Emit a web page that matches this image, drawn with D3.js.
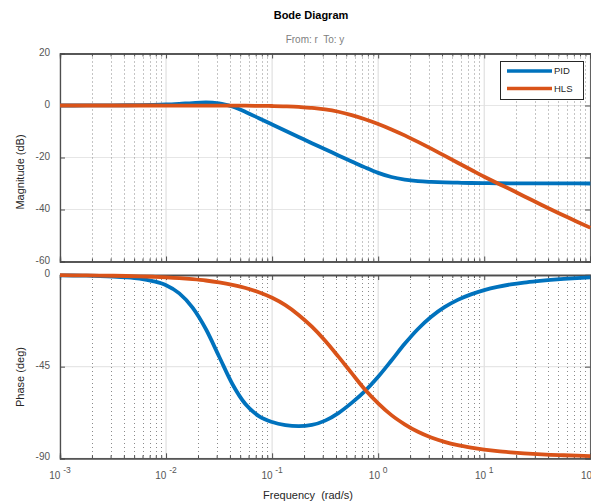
<!DOCTYPE html>
<html><head><meta charset="utf-8">
<script src="https://cdn.jsdelivr.net/npm/d3@7"></script>
<style>
body{margin:0;background:#fff;}
svg{display:block;font-family:"Liberation Sans",Arial,Helvetica,sans-serif;}
text{white-space:pre;}
</style></head>
<body><svg id="c" width="591" height="503"></svg>
<script>
// log10 of frequency (rad/s), step 0.125
const logW = [-3,-2.875,-2.75,-2.625,-2.5,-2.375,-2.25,-2.125,-2,-1.875,-1.75,-1.625,-1.5,-1.375,-1.25,-1.125,-1,-0.875,-0.75,-0.625,-0.5,-0.375,-0.25,-0.125,0,0.125,0.25,0.375,0.5,0.625,0.75,0.875,1,1.125,1.25,1.375,1.5,1.625,1.75,1.875,2];
const pidMag = [0,0,0.02,0.03,0.05,0.09,0.15,0.25,0.4,0.65,0.95,1.15,0.85,-0.4,-2.5,-4.9,-7.3,-9.7,-12.1,-14.5,-16.8,-19.2,-21.5,-23.8,-25.9,-27.5,-28.5,-29.1,-29.4,-29.6,-29.7,-29.8,-29.85,-29.9,-29.92,-29.94,-29.96,-29.97,-29.98,-29.99,-30];
const hlsMag = [0,0,0,0,0,0,0,0,-0.01,-0.01,-0.01,-0.02,-0.03,-0.05,-0.08,-0.14,-0.2,-0.3,-0.5,-0.95,-1.5,-2.4,-3.7,-5.3,-7.1,-9.2,-11.5,-14.0,-16.6,-19.3,-22.0,-24.7,-27.4,-29.9,-32.3,-34.9,-37.4,-39.9,-42.3,-44.7,-47.0];
const pidPhase = [-0.2,-0.25,-0.35,-0.5,-0.75,-1.15,-1.8,-3.0,-5.0,-9.0,-16.0,-26.5,-40,-53.5,-63.5,-69.3,-72.2,-73.7,-74.2,-73.6,-71.5,-67.8,-62.8,-57,-50,-42,-33.8,-26.5,-20.5,-15.8,-12.2,-9.5,-7.4,-5.8,-4.6,-3.7,-3.0,-2.4,-1.9,-1.5,-1.2];
const hlsPhase = [-0.1,-0.15,-0.2,-0.27,-0.36,-0.48,-0.64,-0.86,-1.15,-1.53,-2.05,-2.7,-3.6,-4.8,-6.4,-8.5,-11.2,-14.8,-19.6,-25.4,-32.3,-40.1,-48.2,-56.2,-63,-68.8,-73.3,-77,-79.8,-81.9,-83.5,-84.7,-85.7,-86.5,-87.1,-87.6,-88,-88.3,-88.5,-88.7,-88.9];
const seriesNames = ["PID","HLS"];
const seriesColors = ["#0072BD","#D95319"];
const magTicks = [20,0,-20,-40,-60];
const phaseTicks = [0,-45,-90];
const decades = [-3,-2,-1,0,1,2];

const svg = d3.select("#c");
const L = 60, R = 590.3;
const x = d3.scaleLog().domain([1e-3,1e2]).range([L,R]);
const yMag = d3.scaleLinear().domain([-60,20]).range([261.5,53.5]);
const yPh = d3.scaleLinear().domain([-90,0]).range([458.3,275]);

const minorVals = [];
decades.slice(0,-1).forEach(d=>{for(let k=2;k<=9;k++) minorVals.push(k*Math.pow(10,d));});
const majorVals = decades.map(d=>Math.pow(10,d));

function panel(y, ticks, dataA, dataB) {
  const [y0,y1] = y.range(); // bottom, top
  const g = svg.append("g");
  g.selectAll(".hg").data(ticks).join("line")
    .attr("x1",L).attr("x2",R).attr("y1",d=>y(d)).attr("y2",d=>y(d))
    .attr("stroke","#e6e6e6").attr("stroke-width",1.2);
  g.selectAll(".vg").data(majorVals).join("line")
    .attr("x1",d=>x(d)).attr("x2",d=>x(d)).attr("y1",y1).attr("y2",y0)
    .attr("stroke","#e0e0e0").attr("stroke-width",1.2);
  g.selectAll(".vm").data(minorVals).join("line")
    .attr("x1",d=>Math.round(x(d))+0.5).attr("x2",d=>Math.round(x(d))+0.5).attr("y1",y1).attr("y2",y0)
    .attr("stroke","#8a8a8a").attr("stroke-width",1).attr("stroke-dasharray","1,3");
  const ab = d3.axisBottom(x).tickValues(majorVals).tickSize(-5).tickFormat("");
  const abm = d3.axisBottom(x).tickValues(minorVals).tickSize(-3).tickFormat("");
  const at = d3.axisTop(x).tickValues(majorVals).tickSize(-5).tickFormat("");
  const atm = d3.axisTop(x).tickValues(minorVals).tickSize(-3).tickFormat("");
  const al = d3.axisLeft(y).tickValues(ticks).tickSize(-5).tickFormat("");
  const ar = d3.axisRight(y).tickValues(ticks).tickSize(-5).tickFormat("");
  const axes = [[ab,`translate(0,${y0})`],[abm,`translate(0,${y0})`],[at,`translate(0,${y1})`],[atm,`translate(0,${y1})`],[al,`translate(${L},0)`],[ar,`translate(${R},0)`]];
  axes.forEach(([a,t])=>{
    const ag = g.append("g").attr("transform",t).call(a);
    ag.select(".domain").attr("stroke","#4d4d4d").attr("stroke-width",1.3);
    ag.selectAll(".tick line").attr("stroke","#4d4d4d");
  });
  g.selectAll(".yl").data(ticks).join("text")
    .attr("x",L-10).attr("y",d=>y(d)-1.5).attr("dy","0.35em")
    .attr("text-anchor","end").attr("font-size",10).attr("fill","#555")
    .text(d=>d);
  const line = d3.line().x((d,i)=>x(Math.pow(10,logW[i]))).y(d=>y(d)).curve(d3.curveMonotoneX);
  [dataA,dataB].forEach((dat,k)=>{
    g.append("path").datum(dat).attr("d",line).attr("fill","none")
      .attr("stroke",seriesColors[k]).attr("stroke-width",3.8)
      .attr("stroke-linejoin","round").attr("stroke-linecap","butt");
  });
}

panel(yMag, magTicks, pidMag, hlsMag);
panel(yPh, phaseTicks, pidPhase, hlsPhase);

const xl = svg.append("g");
decades.forEach(d=>{
  const t = xl.append("text").attr("x",x(Math.pow(10,d))).attr("y",479)
    .attr("text-anchor","middle").attr("font-size",10).attr("fill","#555");
  t.append("tspan").text("10 ");
  t.append("tspan").attr("dy",-6).attr("font-size",8.5).text(d);
});

const lg = svg.append("g");
lg.append("rect").attr("x",500.5).attr("y",61.5).attr("width",83).attr("height",38)
  .attr("fill","#fff").attr("stroke","#262626").attr("stroke-width",1);
seriesNames.forEach((n,i)=>{
  const yy = 71 + i*17.5;
  lg.append("line").attr("x1",507).attr("x2",552).attr("y1",yy).attr("y2",yy)
    .attr("stroke",seriesColors[i]).attr("stroke-width",3.6);
  lg.append("text").attr("x",554).attr("y",yy).attr("dy","0.35em")
    .attr("font-size",9.5).attr("fill","#262626").text(n);
});

svg.append("text").attr("x",311).attr("y",19).attr("text-anchor","middle")
  .attr("font-size",11).attr("font-weight","bold").attr("fill","#000").text("Bode Diagram");
svg.append("text").attr("x",315).attr("y",43).attr("text-anchor","middle")
  .attr("font-size",10).attr("fill","#808080").text("From: r  To: y");
svg.append("text").attr("x",308).attr("y",499).attr("text-anchor","middle")
  .attr("font-size",11).attr("fill","#262626").text("Frequency  (rad/s)");
svg.append("text").attr("transform","translate(24,172) rotate(-90)").attr("text-anchor","middle")
  .attr("font-size",11).attr("fill","#262626").text("Magnitude (dB)");
svg.append("text").attr("transform","translate(24,377) rotate(-90)").attr("text-anchor","middle")
  .attr("font-size",11).attr("fill","#262626").text("Phase (deg)");
</script></body></html>
